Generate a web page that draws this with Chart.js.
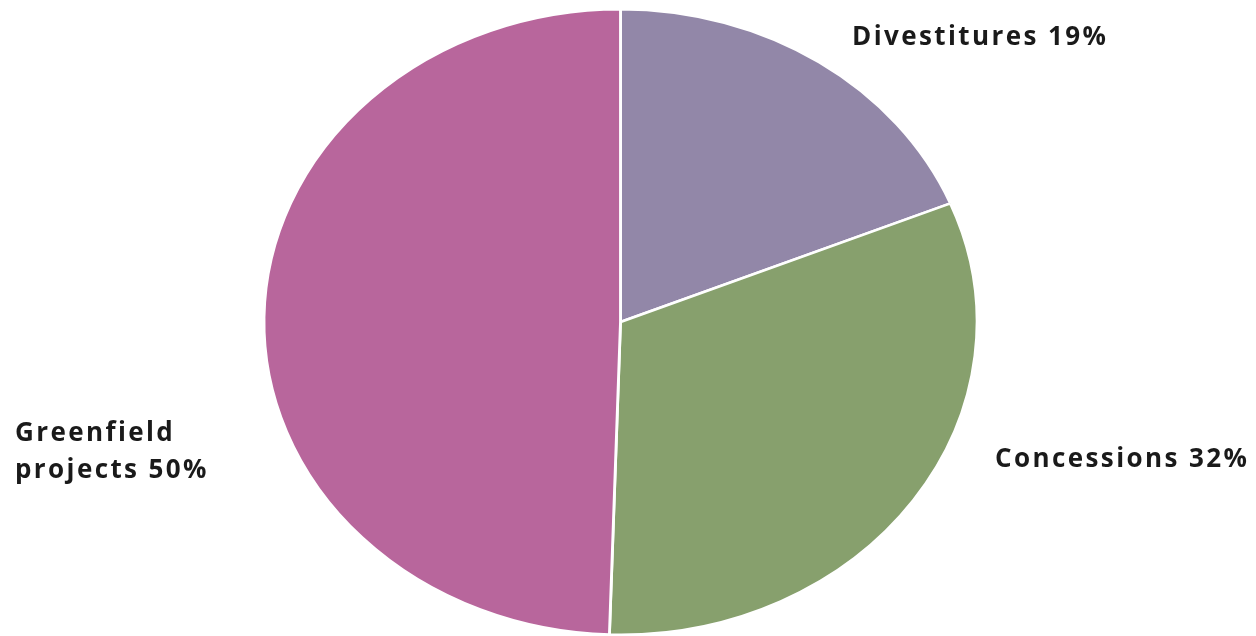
<!DOCTYPE html>
<html>
<head>
<meta charset="utf-8">
<script src="https://cdn.jsdelivr.net/npm/chart.js@4"></script>
<style>
html,body{margin:0;padding:0;background:#fff;}
#wrap{width:1256px;height:636px;position:relative;}
</style>
</head>
<body>
<div id="wrap"><canvas id="c" width="1256" height="636"></canvas></div>
<script>
const categories = ["Divestitures", "Concessions", "Greenfield projects"];
const shares = [19, 32, 50];
const labelLines = [["Divestitures 19%"], ["Concessions 32%"], ["Greenfield", "projects 50%"]];
const colors = ["#9287a8", "#87a06d", "#b8669c"];

const SX = 1.14; // horizontal stretch of the pie (ellipse)

const ellipsePlugin = {
  id: 'ellipse',
  beforeDatasetsDraw(chart) {
    const ctx = chart.ctx;
    const arc = chart.getDatasetMeta(0).data[0];
    ctx.save();
    ctx.translate(arc.x, 0);
    ctx.scale(SX, 1);
    ctx.translate(-arc.x, 0);
  },
  afterDatasetsDraw(chart) {
    chart.ctx.restore();
  }
};

const labelPos = [
  {x: 852, y: 38},
  {x: 995, y: 460},
  {x: 15, y: 434}
];

const labelPlugin = {
  id: 'labels',
  afterDraw(chart) {
    const ctx = chart.ctx;
    ctx.save();
    ctx.fillStyle = '#1a1a1a';
    ctx.font = 'bold 26px "Open Sans", sans-serif';
    ctx.letterSpacing = '2.4px';
    ctx.textAlign = 'left';
    ctx.textBaseline = 'middle';
    labelLines.forEach((lines, i) => {
      lines.forEach((t, j) => {
        ctx.fillText(t, labelPos[i].x, labelPos[i].y + j * 37);
      });
    });
    ctx.restore();
  }
};

new Chart(document.getElementById('c'), {
  type: 'pie',
  data: {
    labels: categories,
    datasets: [{
      data: shares,
      backgroundColor: colors,
      borderColor: '#ffffff',
      borderWidth: 2.5,
      hoverOffset: 0
    }]
  },
  options: {
    responsive: false,
    animation: false,
    layout: { padding: { top: 8, bottom: 0, left: 0, right: 15 } },
    plugins: {
      legend: { display: false },
      tooltip: { enabled: false }
    }
  },
  plugins: [ellipsePlugin, labelPlugin]
});
</script>
</body>
</html>
